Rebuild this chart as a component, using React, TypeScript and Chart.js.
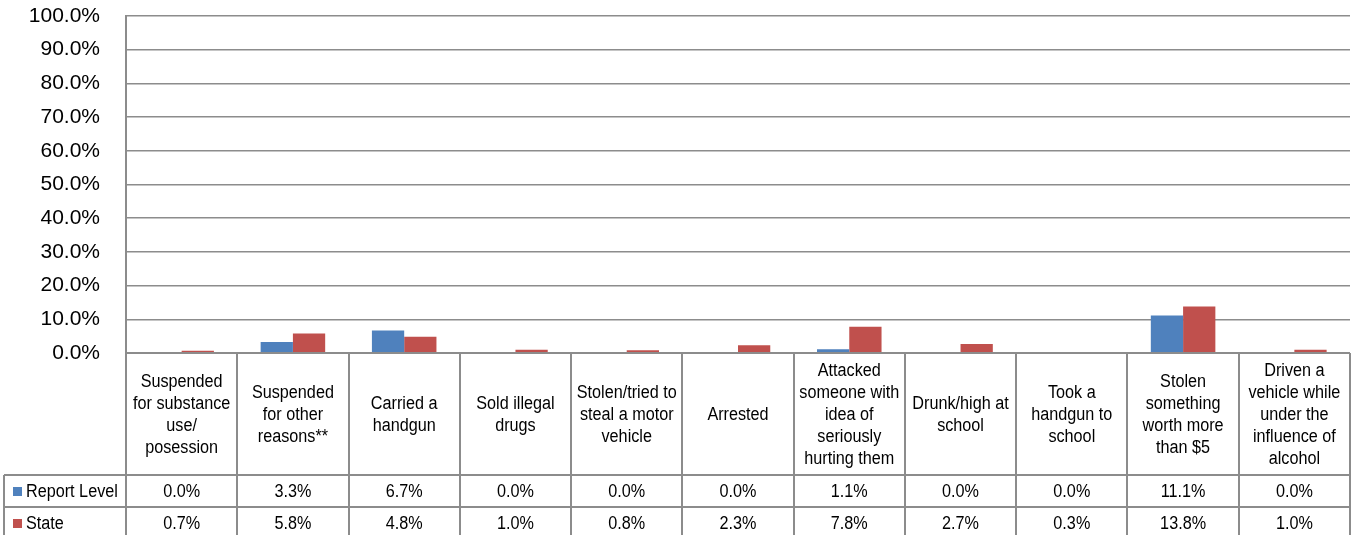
import React, { useEffect, useRef } from "react";
import { Chart, registerables } from "chart.js";

Chart.register(...registerables);

const categories: string[][] = [
  ["Suspended", "for substance", "use/", "posession"],
  ["Suspended", "for other", "reasons**"],
  ["Carried a", "handgun"],
  ["Sold illegal", "drugs"],
  ["Stolen/tried to", "steal a motor", "vehicle"],
  ["Arrested"],
  ["Attacked", "someone with", "idea of", "seriously", "hurting them"],
  ["Drunk/high at", "school"],
  ["Took a", "handgun to", "school"],
  ["Stolen", "something", "worth more", "than $5"],
  ["Driven a", "vehicle while", "under the", "influence of", "alcohol"],
];

const reportLevel: number[] = [0.0, 3.3, 6.7, 0.0, 0.0, 0.0, 1.1, 0.0, 0.0, 11.1, 0.0];
const stateValues: number[] = [0.7, 5.8, 4.8, 1.0, 0.8, 2.3, 7.8, 2.7, 0.3, 13.8, 1.0];

const seriesNames = ["Report Level", "State"];
const seriesColors = ["#4f81bd", "#c0504d"];

const FONT = '"Liberation Sans", Arial, sans-serif';
const LINE = "#8c8c8c";

function drawText(ctx: CanvasRenderingContext2D, text: string, x: number, y: number, align: CanvasTextAlign) {
  ctx.save();
  ctx.translate(x, y);
  ctx.scale(0.9, 1);
  ctx.textAlign = align;
  ctx.textBaseline = "middle";
  ctx.fillText(text, 0, 0);
  ctx.restore();
}

const tablePlugin = {
  id: "dataTable",
  afterDraw(chart: any) {
    const ctx: CanvasRenderingContext2D = chart.ctx;
    const area = chart.chartArea;
    const xs = chart.scales.x;
    const n = categories.length;
    const colW = (area.right - area.left) / n;
    const top = area.bottom;
    const catBottom = top + 122;
    const rowH = 32;
    const rowsBottom = catBottom + rowH * 2 + 4;
    const legendLeft = 4;

    ctx.save();
    ctx.strokeStyle = LINE;
    ctx.lineWidth = 2;
    ctx.beginPath();
    for (let i = 0; i <= n; i++) {
      const x = Math.round(area.left + i * colW);
      ctx.moveTo(x, top);
      ctx.lineTo(x, rowsBottom);
    }
    ctx.moveTo(legendLeft, catBottom);
    ctx.lineTo(legendLeft, rowsBottom);
    ctx.moveTo(area.left, top);
    ctx.lineTo(area.right, top);
    for (let r = 0; r < 2; r++) {
      const y = catBottom + r * rowH;
      ctx.moveTo(legendLeft, y);
      ctx.lineTo(area.right, y);
    }
    ctx.stroke();

    ctx.fillStyle = "#000";
    ctx.font = `18px ${FONT}`;
    const catMid = (top + catBottom) / 2;
    const lh = 22;
    categories.forEach((lines, i) => {
      const cx = xs.getPixelForValue(i);
      lines.forEach((ln, k) => {
        drawText(ctx, ln, cx, catMid + (k - (lines.length - 1) / 2) * lh + 1, "center");
      });
    });

    const series = [reportLevel, stateValues];
    series.forEach((vals, r) => {
      const cy = catBottom + r * rowH + rowH / 2;
      ctx.fillStyle = seriesColors[r];
      ctx.fillRect(13, cy - 4, 9, 9);
      ctx.fillStyle = "#000";
      drawText(ctx, seriesNames[r], 26, cy + 1, "left");
      vals.forEach((v, i) => {
        drawText(ctx, v.toFixed(1) + "%", xs.getPixelForValue(i), cy + 1, "center");
      });
    });
    ctx.restore();
  },
};

export default function App() {
  const ref = useRef<HTMLCanvasElement>(null);
  useEffect(() => {
    if (!ref.current) return;
    const chart = new Chart(ref.current, {
      type: "bar",
      data: {
        labels: categories.map((c) => c.join(" ")),
        datasets: [
          { label: seriesNames[0], data: reportLevel, backgroundColor: seriesColors[0], categoryPercentage: 0.58, barPercentage: 1 },
          { label: seriesNames[1], data: stateValues, backgroundColor: seriesColors[1], categoryPercentage: 0.58, barPercentage: 1 },
        ],
      },
      options: {
        responsive: false,
        animation: false,
        devicePixelRatio: 1,
        layout: { padding: { top: 16, right: 2, left: 0, bottom: 0 }, autoPadding: false },
        plugins: { legend: { display: false }, tooltip: { enabled: false }, title: { display: false } },
        scales: {
          x: {
            ticks: { display: false },
            grid: { display: false, drawTicks: false },
            border: { display: false },
            afterFit: (s: any) => {
              s.height = 182;
              s.paddingLeft = 0;
              s.paddingRight = 0;
            },
          },
          y: {
            min: 0,
            max: 100,
            ticks: {
              stepSize: 10,
              callback: (v: any) => Number(v).toFixed(1) + "%",
              font: { family: FONT, size: 21 },
              color: "#000",
              padding: 26,
            },
            grid: { color: LINE, lineWidth: 1.5, drawTicks: false },
            border: { display: true, color: LINE, width: 2 },
            afterFit: (s: any) => {
              s.width = 126;
              s.paddingTop = 0;
              s.paddingBottom = 0;
            },
          },
        },
      },
      plugins: [tablePlugin],
    });
    return () => chart.destroy();
  }, []);
  return (
    <div style={{ position: "fixed", left: 0, top: 0, width: 1352, height: 535, background: "#fff" }}>
      <canvas ref={ref} width={1352} height={535} style={{ display: "block" }} />
    </div>
  );
}
